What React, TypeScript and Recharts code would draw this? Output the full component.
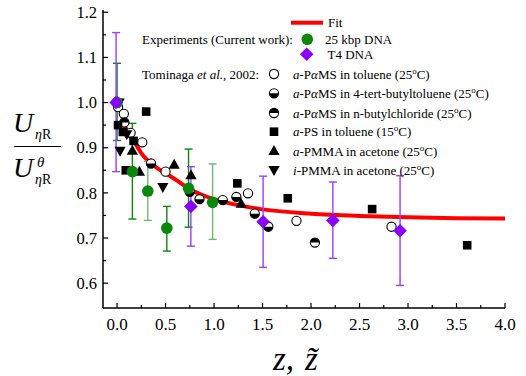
import {
  ComposedChart, Scatter, Line, XAxis, YAxis, ErrorBar, Legend,
} from 'recharts'

const FONT = '"Liberation Serif", "Times New Roman", serif'
const RED = '#ff0000'
const GREEN = '#0b870b'
const GREEN_LIGHT = '#6fb86f'
const PURPLE = '#8a00ff'
const PURPLE_BAR = '#9d3cff'

// axis ticks
const X_TICKS = [0, 0.25, 0.5, 0.75, 1, 1.25, 1.5, 1.75, 2, 2.25, 2.5, 2.75, 3, 3.25, 3.5, 3.75, 4]
const Y_TICKS = [0.6, 0.65, 0.7, 0.75, 0.8, 0.85, 0.9, 0.95, 1.0, 1.05, 1.1, 1.15, 1.2]

// fit curve
const fitX = [0.05, 0.1, 0.17, 0.27, 0.38, 0.51, 0.62, 0.75, 0.86, 1.0, 1.2, 1.48, 2.0, 2.5, 3.0, 3.5, 4.0]
const fitY = [0.96, 0.94, 0.916, 0.882, 0.86, 0.842, 0.827, 0.808, 0.797, 0.786, 0.775, 0.764, 0.754, 0.749, 0.746, 0.744, 0.743]

// 25 kbp DNA (two error bar shades)
const kbpX = [0, 0.158, 0.513, 0.737]
const kbpY = [1.0, 0.847, 0.722, 0.81]
const kbpLo = [0.084, 0.105, 0.051, 0.086]
const kbpHi = [0.087, 0.107, 0.048, 0.087]
const kbp2X = [0.317, 0.985]
const kbp2Y = [0.804, 0.779]
const kbp2Lo = [0.065, 0.082]
const kbp2Hi = [0.066, 0.085]

// T4 DNA
const t4X = [-0.01, 0.761, 1.506, 2.225, 2.918]
const t4Y = [1.0, 0.77, 0.736, 0.739, 0.716]
const t4Lo = [0.153, 0.088, 0.101, 0.084, 0.121]
const t4Hi = [0.155, 0.088, 0.101, 0.085, 0.122]

// Tominaga et al., 2002
const tolX = [0.01, 0.07, 0.14, 0.26, 0.5, 1.35, 1.85, 2.83]
const tolY = [0.99, 0.975, 0.933, 0.912, 0.847, 0.799, 0.738, 0.725]
const tbtX = [0.35, 0.75, 0.85, 1.09, 1.23, 1.42, 1.56]
const tbtY = [0.865, 0.802, 0.786, 0.784, 0.791, 0.754, 0.725]
const nbcX = [0.075, 2.04]
const nbcY = [0.956, 0.69]
const psX = [0.01, 0.06, 0.3, 0.17, 0.09, 1.24, 1.76, 2.63, 3.61]
const psY = [0.95, 0.935, 0.98, 0.915, 0.85, 0.821, 0.788, 0.764, 0.684]
const aPmmaX = [0.158, 0.23, 0.589, 0.762, 1.279]
const aPmmaY = [0.893, 0.847, 0.862, 0.839, 0.776]
const iPmmaX = [0.021, 0.1, 0.031, 0.472]
const iPmmaY = [1.0, 0.93, 0.893, 0.813]

const pts = (xs: number[], ys: number[]) => xs.map((x, i) => ({ x, y: ys[i] }))
const errPts = (xs: number[], ys: number[], lo: number[], hi: number[]) =>
  xs.map((x, i) => ({ x, y: ys[i], err: [lo[i], hi[i]] }))

type P = { cx?: number; cy?: number }

const OpenCircle = ({ cx = 0, cy = 0 }: P) => (
  <circle cx={cx} cy={cy} r={4.6} fill="#fff" stroke="#000" strokeWidth={1.1} />
)
const halfCircle = (top: boolean) => ({ cx = 0, cy = 0 }: P) => {
  const r = 4.6
  return (
    <g>
      <circle cx={cx} cy={cy} r={r} fill="#fff" stroke="#000" strokeWidth={1.1} />
      <path d={`M ${cx - r} ${cy} A ${r} ${r} 0 0 ${top ? 1 : 0} ${cx + r} ${cy} Z`} fill="#000" />
    </g>
  )
}
const HalfBottom = halfCircle(false)
const HalfTop = halfCircle(true)
const Square = ({ cx = 0, cy = 0 }: P) => <rect x={cx - 4.3} y={cy - 4.3} width={8.6} height={8.6} fill="#000" />
const TriUp = ({ cx = 0, cy = 0 }: P) => (
  <polygon points={`${cx},${cy - 6} ${cx + 5.6},${cy + 4} ${cx - 5.6},${cy + 4}`} fill="#000" />
)
const TriDown = ({ cx = 0, cy = 0 }: P) => (
  <polygon points={`${cx - 5.6},${cy - 4} ${cx + 5.6},${cy - 4} ${cx},${cy + 6}`} fill="#000" />
)
const GreenDot = ({ cx = 0, cy = 0 }: P) => <circle cx={cx} cy={cy} r={5.8} fill={GREEN} />
const Diamond = ({ cx = 0, cy = 0 }: P) => (
  <polygon points={`${cx},${cy - 6.8} ${cx + 6.8},${cy} ${cx},${cy + 6.8} ${cx - 6.8},${cy}`} fill={PURPLE} />
)

const xMajor = (v: number) => Math.abs(v * 2 - Math.round(v * 2)) < 1e-6
const yMajor = (v: number) => Math.abs(v * 10 - Math.round(v * 10)) < 1e-6

const serif = { fontFamily: FONT }

const BottomTick = ({ x, y, payload }: any) => {
  const major = xMajor(payload.value)
  return (
    <g>
      <line x1={x} x2={x} y1={y} y2={y - (major ? 5 : 3)} stroke="#000" strokeWidth={1.2} />
      {major && (
        <text x={x} y={y + 22} textAnchor="middle" fontSize={17} style={serif} fill="#000">
          {payload.value.toFixed(1)}
        </text>
      )}
    </g>
  )
}
const TopTick = ({ x, y, payload }: any) => (
  <line x1={x} x2={x} y1={y} y2={y + (xMajor(payload.value) ? 5 : 3)} stroke="#000" strokeWidth={1.2} />
)
const LeftTick = ({ x, y, payload }: any) => {
  const major = yMajor(payload.value)
  return (
    <g>
      <line x1={x} x2={x + (major ? 5 : 3)} y1={y} y2={y} stroke="#000" strokeWidth={1.2} />
      {major && (
        <text x={x - 6} y={y} dy="0.35em" textAnchor="end" fontSize={16.5} style={serif} fill="#000">
          {payload.value.toFixed(1)}
        </text>
      )}
    </g>
  )
}
const RightTick = ({ x, y, payload }: any) => (
  <line x1={x} x2={x - (yMajor(payload.value) ? 5 : 3)} y1={y} y2={y} stroke="#000" strokeWidth={1.2} />
)

const YLabel = () => (
  <g style={serif} fill="#000">
    <text x={13} y={132} fontSize={28} fontStyle="italic">U</text>
    <text x={35} y={138.5} fontSize={14}><tspan fontStyle="italic">η</tspan>R</text>
    <line x1={14} x2={61} y1={146.5} y2={146.5} stroke="#000" strokeWidth={1.2} />
    <text x={13} y={177} fontSize={28} fontStyle="italic">U</text>
    <text x={37} y={167} fontSize={15} fontStyle="italic">θ</text>
    <text x={35} y={184} fontSize={14}><tspan fontStyle="italic">η</tspan>R</text>
  </g>
)

const XLabel = () => (
  <g style={serif} fill="#000">
    <text y={370} fontSize={33} fontStyle="italic">
      <tspan x={273}>z,</tspan>
      <tspan x={305}>{'z\u0303'}</tspan>
    </text>
  </g>
)

const Deg = () => (
  <>
    <tspan dy={-5} fontSize={9}>o</tspan>
    <tspan dy={5}>C)</tspan>
  </>
)

const tominagaRows = [
  { y: 74, shape: OpenCircle, text: <><tspan fontStyle="italic">a</tspan>-P<tspan fontStyle="italic">α</tspan>MS in toluene (25<Deg /></> },
  { y: 93.3, shape: HalfBottom, text: <><tspan fontStyle="italic">a</tspan>-P<tspan fontStyle="italic">α</tspan>MS in 4-tert-butyltoluene (25<Deg /></> },
  { y: 113, shape: HalfTop, text: <><tspan fontStyle="italic">a</tspan>-P<tspan fontStyle="italic">α</tspan>MS in n-butylchloride (25<Deg /></> },
  { y: 131.7, shape: Square, text: <><tspan fontStyle="italic">a</tspan>-PS in toluene (15<Deg /></> },
  { y: 151, shape: TriUp, text: <><tspan fontStyle="italic">a</tspan>-PMMA in acetone (25<Deg /></> },
  { y: 170, shape: TriDown, text: <><tspan fontStyle="italic">i</tspan>-PMMA in acetone (25<Deg /></> },
]

const LegendBox = () => (
  <svg width={526} height={185} style={{ display: 'block', fontFamily: FONT }} fontSize={13} fill="#000">
    <line x1={291} x2={323} y1={22.7} y2={22.7} stroke={RED} strokeWidth={4} />
    <text x={328} y={27}>Fit</text>
    <text x={142} y={43.8}>Experiments (Current work):</text>
    <GreenDot cx={307.3} cy={39.3} />
    <text x={325} y={43.8}>25 kbp DNA</text>
    <Diamond cx={306.7} cy={54.3} />
    <text x={327.5} y={58.8}>T4 DNA</text>
    <text x={142} y={78.5}>Tominaga <tspan fontStyle="italic">et al.</tspan>, 2002:</text>
    {tominagaRows.map((r, i) => {
      const S = r.shape
      return (
        <g key={i}>
          <S cx={274} cy={r.y} />
          <text x={293} y={r.y + 4.5}>{r.text}</text>
        </g>
      )
    })}
  </svg>
)

export default function App() {
  const axisLine = { stroke: '#000', strokeWidth: 1.5 }
  return (
    <div style={{ position: 'absolute', left: 0, top: 0, background: '#fff', fontFamily: FONT }}>
      <ComposedChart width={526} height={376} margin={{ top: 10, right: 21, bottom: 0, left: 0 }}>
        <XAxis
          xAxisId="b" dataKey="x" type="number" domain={[-0.145, 4]} allowDataOverflow
          ticks={X_TICKS} interval={0} tickSize={0} tickMargin={0} tickLine={false}
          axisLine={axisLine} height={68} tick={(p: any) => <BottomTick {...p} />}
          label={{ content: () => <XLabel /> }}
        />
        <XAxis
          xAxisId="t" orientation="top" dataKey="x" type="number" domain={[-0.145, 4]} allowDataOverflow
          ticks={X_TICKS} interval={0} tickSize={0} tickMargin={0} tickLine={false}
          axisLine={axisLine} height={0} tick={(p: any) => <TopTick {...p} />}
        />
        <YAxis
          yAxisId="l" dataKey="y" type="number" domain={[0.545, 1.205]} allowDataOverflow
          ticks={Y_TICKS} interval={0} tickSize={0} tickMargin={0} tickLine={false}
          axisLine={axisLine} width={103} tick={(p: any) => <LeftTick {...p} />}
          label={{ content: () => <YLabel /> }}
        />
        <YAxis
          yAxisId="r" orientation="right" dataKey="y" type="number" domain={[0.545, 1.205]} allowDataOverflow
          ticks={Y_TICKS} interval={0} tickSize={0} tickMargin={0} tickLine={false}
          axisLine={axisLine} width={0} tick={(p: any) => <RightTick {...p} />}
        />
        <Legend
          layout="horizontal" verticalAlign="middle" align="center"
          content={() => <LegendBox />}
          wrapperStyle={{ position: 'absolute', left: 0, top: 0, width: 526, height: 185 }}
        />

        <Line
          xAxisId="b" yAxisId="l" data={pts(fitX, fitY)} dataKey="y" type="monotone"
          stroke={RED} strokeWidth={4} dot={false} isAnimationActive={false} name="Fit"
        />

        <Scatter xAxisId="b" yAxisId="l" data={pts(tolX, tolY)} dataKey="y" shape={OpenCircle} isAnimationActive={false} />
        <Scatter xAxisId="b" yAxisId="l" data={pts(tbtX, tbtY)} dataKey="y" shape={HalfBottom} isAnimationActive={false} />
        <Scatter xAxisId="b" yAxisId="l" data={pts(nbcX, nbcY)} dataKey="y" shape={HalfTop} isAnimationActive={false} />
        <Scatter xAxisId="b" yAxisId="l" data={pts(psX, psY)} dataKey="y" shape={Square} isAnimationActive={false} />
        <Scatter xAxisId="b" yAxisId="l" data={pts(aPmmaX, aPmmaY)} dataKey="y" shape={TriUp} isAnimationActive={false} />
        <Scatter xAxisId="b" yAxisId="l" data={pts(iPmmaX, iPmmaY)} dataKey="y" shape={TriDown} isAnimationActive={false} />

        <Scatter xAxisId="b" yAxisId="l" data={errPts(kbpX, kbpY, kbpLo, kbpHi)} dataKey="y" shape={GreenDot} isAnimationActive={false}>
          <ErrorBar dataKey="err" direction="y" width={4} stroke={GREEN} strokeWidth={1.4} isAnimationActive={false} />
        </Scatter>
        <Scatter xAxisId="b" yAxisId="l" data={errPts(kbp2X, kbp2Y, kbp2Lo, kbp2Hi)} dataKey="y" shape={GreenDot} isAnimationActive={false}>
          <ErrorBar dataKey="err" direction="y" width={4} stroke={GREEN_LIGHT} strokeWidth={1.4} isAnimationActive={false} />
        </Scatter>
        <Scatter xAxisId="b" yAxisId="l" data={errPts(t4X, t4Y, t4Lo, t4Hi)} dataKey="y" shape={Diamond} isAnimationActive={false}>
          <ErrorBar dataKey="err" direction="y" width={4} stroke={PURPLE_BAR} strokeWidth={1.4} isAnimationActive={false} />
        </Scatter>
      </ComposedChart>
    </div>
  )
}
